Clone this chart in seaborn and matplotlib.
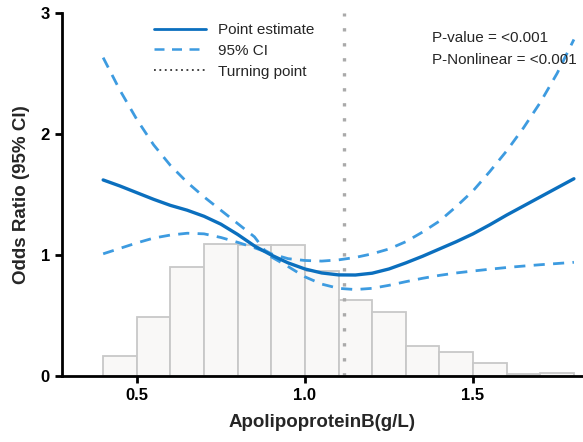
import numpy as np
import pandas as pd
import seaborn as sns
from matplotlib import pyplot as plt
from matplotlib.lines import Line2D

# spline curve
apob = [0.40, 0.45, 0.50, 0.55, 0.60, 0.65, 0.70, 0.75, 0.80, 0.85, 0.88, 0.90,
        0.95, 1.00, 1.05, 1.10, 1.15, 1.20, 1.25, 1.30, 1.35, 1.40, 1.45, 1.50,
        1.55, 1.60, 1.65, 1.70, 1.75, 1.80]
odds = [1.62, 1.57, 1.515, 1.46, 1.41, 1.37, 1.32, 1.255, 1.17, 1.075, 1.03, 1.00,
        0.935, 0.885, 0.852, 0.836, 0.835, 0.85, 0.885, 0.935, 0.99, 1.05, 1.11, 1.175,
        1.25, 1.33, 1.405, 1.48, 1.555, 1.63]
ci_upper = [2.63, 2.36, 2.12, 1.91, 1.74, 1.60, 1.48, 1.37, 1.26, 1.15, 1.04, 1.01,
            0.97, 0.955, 0.95, 0.96, 0.98, 1.01, 1.05, 1.11, 1.19, 1.28, 1.40, 1.53,
            1.69, 1.86, 2.05, 2.26, 2.50, 2.78]
ci_lower = [1.01, 1.055, 1.10, 1.14, 1.165, 1.18, 1.175, 1.145, 1.105, 1.06, 1.03, 0.985,
            0.905, 0.82, 0.76, 0.725, 0.715, 0.725, 0.75, 0.78, 0.808, 0.832, 0.852, 0.868,
            0.883, 0.897, 0.909, 0.92, 0.93, 0.94]
turning_point = 1.117

# distribution histogram (scaled to OR axis)
bin_edges = [0.4, 0.5, 0.6, 0.7, 0.8, 0.9, 1.0, 1.1, 1.2, 1.3, 1.4, 1.5, 1.6, 1.7, 1.8]
bin_heights = [0.17, 0.49, 0.90, 1.09, 1.08, 1.08, 0.87, 0.63, 0.53, 0.25, 0.20, 0.11, 0.015, 0.025]

sns.set_style("ticks")
plt.rcParams['font.family'] = ['Liberation Sans', 'DejaVu Sans']

fig = plt.figure(figsize=(5.83, 4.42), dpi=100)
ax = fig.add_axes([0.106, 0.149, 0.894, 0.822])

mids = [(a + b) / 2 for a, b in zip(bin_edges[:-1], bin_edges[1:])]
sns.histplot(x=mids, weights=bin_heights, bins=bin_edges, ax=ax,
             color="#f9f8f7", edgecolor="#c8c8c8", linewidth=1.3, alpha=1, zorder=1)

curve = pd.DataFrame({"x": apob, "pe": odds, "up": ci_upper, "lo": ci_lower})
sns.lineplot(data=curve, x="x", y="up", ax=ax, color="#3d9be0", lw=2,
             linestyle=(0, (4, 3)), zorder=3)
sns.lineplot(data=curve, x="x", y="lo", ax=ax, color="#3d9be0", lw=2,
             linestyle=(0, (4, 3)), zorder=3)
sns.lineplot(data=curve, x="x", y="pe", ax=ax, color="#0b6fbe", lw=2.4, zorder=4)
ax.axvline(turning_point, color="#aaaaaa", lw=2.4, linestyle=(0, (1, 3.5)), zorder=2)

ax.set_xlim(0.277, 1.827)
ax.set_ylim(0, 3)
ax.set_xticks([0.5, 1.0, 1.5])
ax.set_xticklabels(["0.5", "1.0", "1.5"])
ax.set_yticks([0, 1, 2, 3])
ax.set_yticklabels(["0", "1", "2", "3"])
sns.despine(ax=ax)
for s in ["left", "bottom"]:
    ax.spines[s].set_linewidth(2)
    ax.spines[s].set_color("black")
ax.tick_params(width=2, length=5, labelsize=12, colors="black")
for lab in ax.get_xticklabels() + ax.get_yticklabels():
    lab.set_fontweight("bold")
ax.set_xlabel("ApolipoproteinB(g/L)", fontsize=13.5, fontweight="bold", labelpad=8)
ax.set_ylabel("Odds Ratio (95% CI)", fontsize=13.5, fontweight="bold", labelpad=8)

handles = [Line2D([], [], color="#0b6fbe", lw=2),
           Line2D([], [], color="#3d9be0", lw=1.8, linestyle=(0, (4, 3))),
           Line2D([], [], color="#333333", lw=1.3, linestyle=(0, (1, 2)))]
ax.legend(handles, ["Point estimate", "95% CI", "Turning point"], frameon=False,
          fontsize=11, loc="upper left", bbox_to_anchor=(0.15, 1.01),
          handlelength=3.4, labelspacing=0.45)

ax.text(0.71, 0.93, "P-value = <0.001", transform=ax.transAxes, fontsize=11, va="center")
ax.text(0.71, 0.87, "P-Nonlinear = <0.001", transform=ax.transAxes, fontsize=11, va="center")

fig.savefig("out.png", dpi=100)
